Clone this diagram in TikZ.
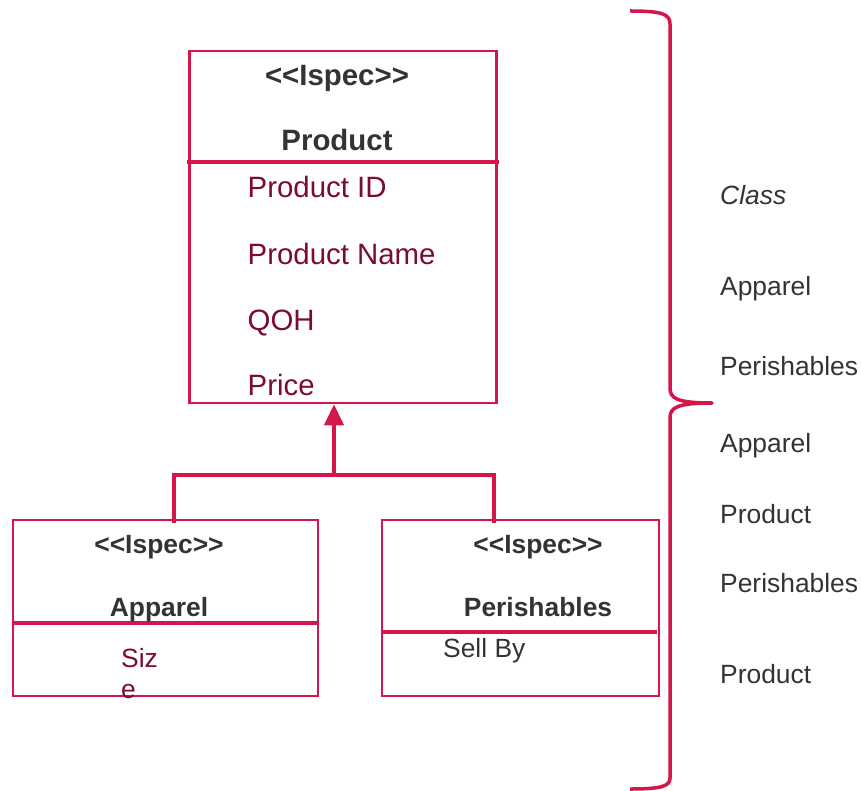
\documentclass[tikz,border=0pt]{standalone}
\usepackage{fontspec}
\setmainfont{Liberation Sans}[Ligatures=TeXOff]
\usetikzlibrary{positioning,arrows.meta}
\definecolor{crimson}{HTML}{D5164B}
\definecolor{wine}{HTML}{7B0C2C}
\definecolor{ink}{HTML}{333333}

\begin{document}
\begin{tikzpicture}[x=1pt,y=-1pt,
    classbox/.style={draw=crimson,line width=2.5pt,inner sep=0pt},
    divider/.style={crimson,line width=3.5pt},
    link/.style={crimson,line width=4pt},
    txt/.style={inner sep=0pt,anchor=base,ink},
    big/.style={font=\fontsize{29.4}{34}\selectfont},
    small/.style={font=\fontsize{26.4}{31}\selectfont}]
  \useasboundingbox (0,0) rectangle (861,791);
  % Product
  \node[classbox,minimum width=307pt,minimum height=352pt] (product) at (343,227) {};
  \draw[divider] ([xshift=-1pt]product.west |- 0,162) -- ([xshift=1pt]product.east |- 0,162);
  \node[txt,big] (pstereo) at (337,86) {\bfseries <<Ispec>>};
  \node[txt,big] (pname) at (337,151) {\bfseries Product};
  \node[txt,big,wine,anchor=base west] (pid) at (247.5,198) {Product ID};
  \node[txt,big,wine,anchor=base west] (pnm) at (247.5,265) {Product Name};
  \node[txt,big,wine,anchor=base west] (qoh) at (247.5,330) {QOH};
  \node[txt,big,wine,anchor=base west] (price) at (247.5,395) {Price};
  % Apparel
  \node[classbox,minimum width=305pt,minimum height=176pt] (apparel) at (165.5,608) {};
  \draw[divider] (apparel.west |- 0,623) -- (apparel.east |- 0,623);
  \node[txt,small] (astereo) at (159,553) {\bfseries <<Ispec>>};
  \node[txt,small] (aname) at (159,616) {\bfseries Apparel};
  \node[txt,small,wine,anchor=base west] (size) at (121,667) {Siz};
  \node[txt,small,wine,anchor=base west] (sizee) at (121,698) {e};
  % Perishables
  \node[classbox,minimum width=277pt,minimum height=176pt] (perish) at (520.5,608) {};
  \draw[divider] (perish.west |- 0,632) -- ([xshift=-3pt]perish.east |- 0,632);
  \node[txt,small] (pestereo) at (538,553) {\bfseries <<Ispec>>};
  \node[txt,small] (pename) at (538,616) {\bfseries Perishables};
  \node[txt,small,anchor=base west] (sellby) at (443,657) {Sell By};
  % generalisation
  \coordinate (hub) at (334,475);
  \coordinate (aptop) at (174,523);
  \coordinate (petop) at (494,523);
  \draw[link] (aptop) |- (hub) -| (petop);
  \draw[link,-{Triangle[width=19pt,length=21pt]}] (hub) -- (hub |- product.south);
  % brace
  \draw[crimson,line width=3.5pt,line join=round]
    (630,11) .. controls (662,11) and (670,14) .. (670,24) -- (670,388)
    .. controls (670,398) and (676,403) .. (712,403)
    .. controls (676,403) and (670,408) .. (670,418) -- (670,778)
    .. controls (670,786) and (662,789) .. (630,789);
  % class list
  \node[txt,small,anchor=base west] (l1) at (720,205) {\itshape Class};
  \node[txt,small,anchor=base west] (l2) at (720,295) {Apparel};
  \node[txt,small,anchor=base west] (l3) at (720,375) {Perishables};
  \node[txt,small,anchor=base west] (l4) at (720,452) {Apparel};
  \node[txt,small,anchor=base west] (l5) at (720,523) {Product};
  \node[txt,small,anchor=base west] (l6) at (720,592) {Perishables};
  \node[txt,small,anchor=base west] (l7) at (720,683) {Product};
\end{tikzpicture}
\end{document}
